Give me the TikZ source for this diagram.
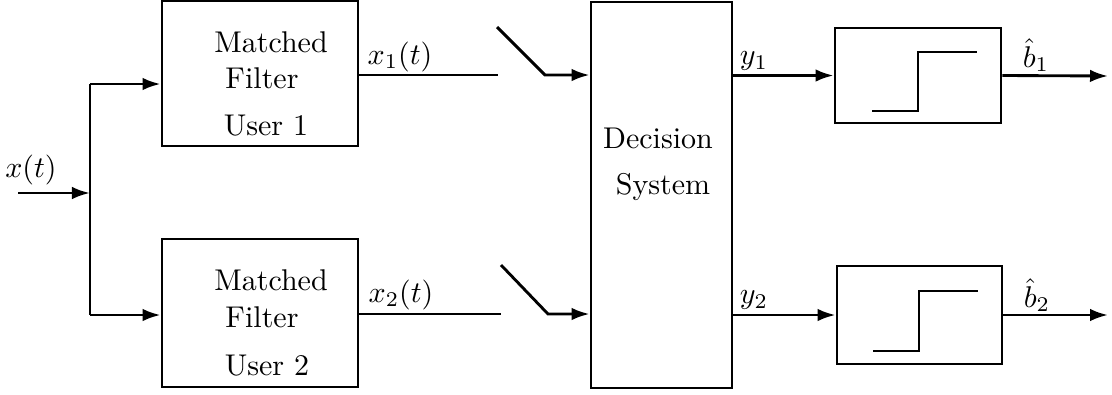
\documentclass[tikz,border=0pt]{standalone}
\usetikzlibrary{arrows.meta}
\begin{document}
\begin{tikzpicture}[x=0.3333pt,y=-0.3333pt,
  line width=0.95pt,
  blk/.style={draw,rectangle,inner sep=0pt,line width=0.95pt},
  arr/.style={-{Latex[length=6pt,width=4.2pt]},line width=0.95pt},
  lbl/.style={inner sep=0pt,anchor=base}]
\useasboundingbox (0,0) rectangle (1112,394);
% blocks
\node[blk,minimum width=196*0.3333pt,minimum height=145*0.3333pt] (mf1) at (260,73.5) {};
\node[blk,minimum width=196*0.3333pt,minimum height=148*0.3333pt] (mf2) at (260,313) {};
\node[blk,minimum width=141*0.3333pt,minimum height=386*0.3333pt] (dec) at (661.5,195) {};
\node[blk,minimum width=166*0.3333pt,minimum height=95*0.3333pt] (th1) at (918,75.5) {};
\node[blk,minimum width=165*0.3333pt,minimum height=98*0.3333pt] (th2) at (919.5,315) {};
% block texts
\node[lbl] (t1a) at (271,52) {Matched};
\node[lbl] (t1b) at (262,88) {Filter};
\node[lbl] (t1c) at (266,135) {User 1};
\node[lbl] (t2a) at (271,290) {Matched};
\node[lbl] (t2b) at (262,327) {Filter};
\node[lbl] (t2c) at (267,375) {User 2};
\node[lbl] (d1) at (658,148) {Decision};
\node[lbl] (d2) at (663,194) {System};
% coordinates
\coordinate (in) at (18,193);
\coordinate (sp) at (90,193);
\coordinate (sp1) at (90,84);
\coordinate (sp2) at (90,315);
\coordinate (o1) at (358,75);
\coordinate (s1a) at (498,75);
\coordinate (s1b) at (497,27);
\coordinate (s1c) at (545,75);
\coordinate (o2) at (358,314);
\coordinate (s2a) at (501,314);
\coordinate (s2b) at (501,265);
\coordinate (s2c) at (548,314);
\coordinate (e1) at (1108,76);
\coordinate (e2) at (1108,315);
% connectors
\draw[arr] (in) -- (sp);
\draw (sp1) -- (sp2);
\draw[arr] (sp1) -- (sp1 -| mf1.west);
\draw[arr] (sp2) -- (sp2 -| mf2.west);
\draw (o1) -- (s1a);
\draw (o2) -- (s2a);
\draw[arr] (s1b) -- (s1c) -- (s1c -| dec.west);
\draw[arr] (s2b) -- (s2c) -- (s2c -| dec.west);
\draw[arr] (dec.east |- th1.west) -- (th1.west);
\draw[arr] (dec.east |- th2.west) -- (th2.west);
\draw[arr] (th1.east) -- (e1);
\draw[arr] (th2.east) -- (e2);
% step symbols
\draw (872,111) -- (918,111) -- (918,52) -- (977,52);
\draw (873,351) -- (919,351) -- (919,291) -- (978,291);
% labels
\node[lbl] (lx) at (31,177) {$x(t)$};
\node[lbl] (lx1) at (400,64) {$x_1(t)$};
\node[lbl] (lx2) at (401,302) {$x_2(t)$};
\node[inner sep=0pt] (ly1) at (754,61) {$y_1$};
\node[inner sep=0pt] (ly2) at (754,300) {$y_2$};
\node[inner sep=0pt] (lb1) at (1036,55) {$\hat b_1$};
\node[inner sep=0pt] (lb2) at (1037,295) {$\hat b_2$};
\end{tikzpicture}
\end{document}
